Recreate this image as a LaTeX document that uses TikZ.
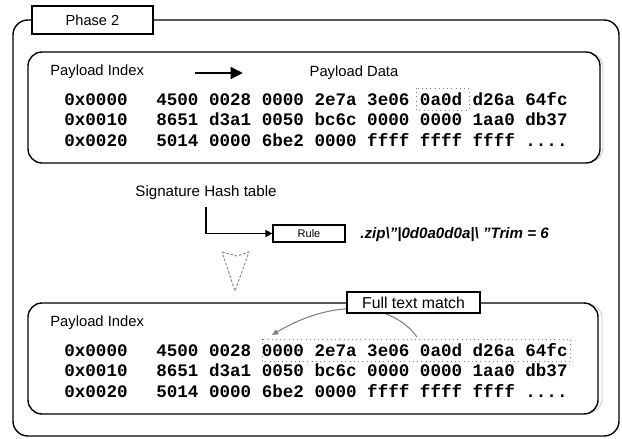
\documentclass[tikz,border=0pt]{standalone}
\usepackage{fontspec}
\setmainfont{Liberation Sans}
\setmonofont{Liberation Mono}
\usepackage{tikz}
\usetikzlibrary{arrows.meta}

\begin{document}
\begin{tikzpicture}[scale=0.2,
  hexrow/.style={anchor=west, text height=6.5pt, text depth=0.5pt, font=\fontsize{10}{12}\ttfamily\bfseries},
  caption/.style={font=\fontsize{8.4}{10}\selectfont},
  framebox/.style={black, line width=0.8pt, rounded corners=8pt},
  shadowbox/.style={gray!45, line width=0.5pt, rounded corners=8pt},
  hitbox/.style={gray, line width=0.4pt, dotted}]
\tikzstyle{every node}+=[inner sep=0pt]
\useasboundingbox (0,0) rectangle (62.2,-43.8);
% outer frame
\draw [black, line width=0.8pt, rounded corners=8.5pt] (1.3,-2.0) rectangle (61.9,-43.6);
\node [draw, fill=white, line width=0.9pt, minimum width=2.42cm, minimum height=0.56cm, font=\fontsize{8.3}{10}\selectfont] (phase) at (9.25,-2.0) {Phase 2};
% upper payload
\draw [shadowbox] (3.1,-5.3) rectangle (60.3,-16.2);
\draw [framebox, fill=white] (2.8,-5.2) rectangle (60.0,-16.3);
\node [caption, anchor=west] (indexA) at (5.0,-7.2) {Payload Index};
\coordinate (arrA) at (19.5,-7.3);
\coordinate (arrB) at (24.3,-7.3);
\draw [black, line width=1.7pt, -{Triangle[length=7pt,width=6.5pt]}] (arrA) -- (arrB);
\node [caption] (dataA) at (35.4,-7.3) {Payload Data};
\node [hexrow] (offA1) at (6.4,-10.0) {0x0000};
\node [hexrow] (offA2) at (6.4,-12.05) {0x0010};
\node [hexrow] (offA3) at (6.4,-14.1) {0x0020};
\node [hexrow] (hexA1) at (15.6,-10.0) {4500 0028 0000 2e7a 3e06 0a0d d26a 64fc};
\node [hexrow] (hexA2) at (15.6,-12.05) {8651 d3a1 0050 bc6c 0000 0000 1aa0 db37};
\node [hexrow] (hexA3) at (15.6,-14.1) {5014 0000 6be2 0000 ffff ffff ffff ....};
\draw [hitbox] (41.6,-8.8) rectangle (46.9,-11.0);
% signature lookup
\node [font=\fontsize{8.6}{10}\selectfont] (sig) at (20.6,-19.3) {Signature Hash table};
\node [draw, line width=0.7pt, minimum width=1.44cm, minimum height=0.34cm, font=\fontsize{6.3}{7}\selectfont] (rule) at (30.9,-23.35) {Rule};
\coordinate (sigfoot) at (20.6,-20.7);
\draw [black, line width=0.9pt, -{Triangle[length=4pt,width=4pt]}] (sigfoot) |- (rule.west);
\node [anchor=west, font=\fontsize{8.6}{10}\bfseries\itshape] (trim) at (36.0,-23.5) {.zip\textbackslash"|0d0a0d0a|\textbackslash\ "Trim = 6};
\draw [gray, line width=0.5pt, dash pattern=on 1.5pt off 1pt] (22.2,-25.2) -- (23.7,-25.6) -- (24.9,-25.2) -- (23.5,-29.1) -- cycle;
% lower payload
\draw [shadowbox] (3.1,-30.4) rectangle (60.2,-41.3);
\draw [framebox, fill=white] (2.8,-30.3) rectangle (59.8,-41.4);
\node [caption, anchor=west] (indexB) at (5.0,-32.3) {Payload Index};
\node [hexrow] (offB1) at (6.4,-35.1) {0x0000};
\node [hexrow] (offB2) at (6.4,-37.15) {0x0010};
\node [hexrow] (offB3) at (6.4,-39.2) {0x0020};
\node [hexrow] (hexB1) at (15.6,-35.1) {4500 0028 0000 2e7a 3e06 0a0d d26a 64fc};
\node [hexrow] (hexB2) at (15.6,-37.15) {8651 d3a1 0050 bc6c 0000 0000 1aa0 db37};
\node [hexrow] (hexB3) at (15.6,-39.2) {5014 0000 6be2 0000 ffff ffff ffff ....};
\draw [hitbox] (26.2,-33.9) rectangle (57.0,-36.1);
\coordinate (matchR) at (41.7,-33.7);
\coordinate (matchL) at (27.2,-33.5);
\draw [gray, line width=0.6pt, -{Triangle[length=3.5pt,width=3pt]}] (matchR) .. controls (39,-30.0) and (33,-30.0) .. (matchL);
\node [draw, fill=white, line width=0.8pt, minimum width=2.66cm, minimum height=0.42cm, font=\fontsize{9}{11}\selectfont] (fullmatch) at (41.35,-30.25) {Full text match};
\end{tikzpicture}
\end{document}
